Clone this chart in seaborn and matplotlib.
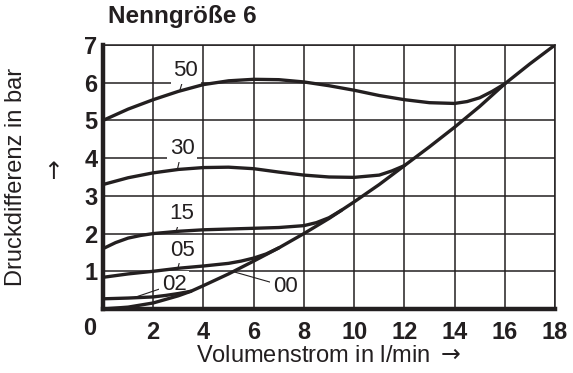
import numpy as np
import pandas as pd
import matplotlib
matplotlib.use("Agg")
import matplotlib.pyplot as plt
import seaborn as sns

# characteristic curves (flow in l/min, pressure drop in bar)
c00_x = [0, 1, 2, 3, 3.5, 4, 5, 6, 7, 8, 9, 9.5, 10, 11, 12, 13, 14, 15, 16, 17, 18]
c00_y = [0.0, 0.05, 0.16, 0.35, 0.47, 0.62, 0.93, 1.27, 1.62, 2.0, 2.4, 2.62, 2.84, 3.3, 3.8, 4.3, 4.82, 5.37, 5.97, 6.5, 7.0]

c02_x = [0, 1, 2, 2.5, 3, 3.5]
c02_y = [0.27, 0.29, 0.32, 0.36, 0.41, 0.47]

c05_x = [0, 1, 2, 3, 4, 5, 5.5, 6, 6.5, 7]
c05_y = [0.84, 0.93, 1.0, 1.08, 1.14, 1.21, 1.27, 1.35, 1.46, 1.62]

c15_x = [0, 0.5, 1, 1.5, 2, 3, 4, 5, 6, 7, 8, 8.5, 9, 9.5]
c15_y = [1.6, 1.76, 1.88, 1.95, 2.0, 2.06, 2.1, 2.12, 2.14, 2.16, 2.21, 2.29, 2.42, 2.62]

c30_x = [0, 1, 2, 3, 4, 5, 6, 7, 8, 9, 10, 11, 11.5, 12]
c30_y = [3.3, 3.48, 3.61, 3.7, 3.75, 3.76, 3.72, 3.63, 3.55, 3.5, 3.49, 3.55, 3.66, 3.8]

c50_x = [0, 1, 2, 3, 4, 5, 6, 7, 8, 9, 10, 11, 12, 13, 14, 14.5, 15, 15.5, 16]
c50_y = [5.0, 5.3, 5.55, 5.77, 5.95, 6.05, 6.09, 6.08, 6.02, 5.92, 5.8, 5.66, 5.55, 5.47, 5.45, 5.5, 5.6, 5.77, 5.97]

curve_names = ["00", "02", "05", "15", "30", "50"]
curve_xs = [c00_x, c02_x, c05_x, c15_x, c30_x, c50_x]
curve_ys = [c00_y, c02_y, c05_y, c15_y, c30_y, c50_y]

x_ticks = list(range(0, 19, 2))
y_ticks = list(range(0, 8))

ink = "#231f20"

sns.set_style("white")
plt.rcParams["font.family"] = ["Liberation Sans", "DejaVu Sans"]
tick_family = ["Liberation Sans Narrow", "Liberation Sans", "DejaVu Sans"]

df = pd.concat(
    [pd.DataFrame({"flow": x, "dp": y, "curve": n}) for n, x, y in zip(curve_names, curve_xs, curve_ys)],
    ignore_index=True,
)

fig = plt.figure(figsize=(5.73, 3.73), dpi=100)
ax = fig.add_axes([0.1798, 0.1716, 0.7888, 0.7078])

sns.lineplot(data=df, x="flow", y="dp", units="curve", estimator=None, sort=False,
             color=ink, lw=2.4, ax=ax, zorder=4)

ax.set_xlim(0, 18)
ax.set_ylim(0, 7)
ax.set_xticks(x_ticks)
ax.set_yticks(y_ticks)
ax.set_xticklabels([""] + [str(t) for t in x_ticks[1:]])
ax.set_yticklabels([""] + [str(t) for t in y_ticks[1:]])
ax.set_axisbelow(True)
ax.grid(True, color=ink, lw=1.1)
ax.tick_params(length=0, labelsize=17, colors=ink)
ax.tick_params(axis="x", pad=9)
ax.tick_params(axis="y", pad=4)
for lab in ax.get_xticklabels() + ax.get_yticklabels():
    lab.set_fontweight("bold")
    lab.set_family(tick_family)

for side in ["left", "bottom"]:
    ax.spines[side].set_linewidth(3.2)
    ax.spines[side].set_color(ink)
for side in ["top", "right"]:
    ax.spines[side].set_linewidth(1.1)
    ax.spines[side].set_color(ink)

# shared origin label at the corner
ax.annotate("0", xy=(0, 0), xytext=(-13, -20), textcoords="offset pixels",
            ha="center", va="center", fontsize=17, fontweight="bold",
            family=tick_family, color=ink, annotation_clip=False)

ax.set_xlabel(r"Volumenstrom in l/min $\rightarrow$", fontsize=17, color=ink)
ax.xaxis.set_label_coords(0.5, -0.135)
ax.set_ylabel("Druckdifferenz in bar", fontsize=17, color=ink)
ax.yaxis.set_label_coords(-0.168, 0.5)
# arrow beside the y label, drawn upright
fig.text(50 / 573, 1 - 173 / 373, r"$\uparrow$", fontsize=17, color=ink,
         ha="center", va="center")

fig.text(108 / 573, 1 - 17 / 373, "Nenngröße 6", fontsize=17.5, fontweight="bold",
         ha="left", va="center", color=ink)

# curve labels with leader lines (text position, x where leader meets curve)
labels = {
    "50": ((3.3, 6.32), 3.05),
    "30": ((3.15, 4.25), 2.96),
    "15": ((3.13, 2.53), 2.91),
    "05": ((3.17, 1.56), 2.98),
    "02": ((2.83, 0.66), 1.21),
    "00": ((7.25, 0.6), 5.18),
}
for n, x, y in zip(curve_names, curve_xs, curve_ys):
    (tx, ty), lx = labels[n]
    ax.annotate(n, xy=(lx, np.interp(lx, x, y)), xytext=(tx, ty),
                ha="center", va="center", fontsize=16, color=ink, zorder=3,
                bbox=dict(boxstyle="square,pad=0.12", fc="white", ec="none"),
                arrowprops=dict(arrowstyle="-", color=ink, lw=0.8, shrinkA=0, shrinkB=0))

fig.savefig("out.png", dpi=100)
